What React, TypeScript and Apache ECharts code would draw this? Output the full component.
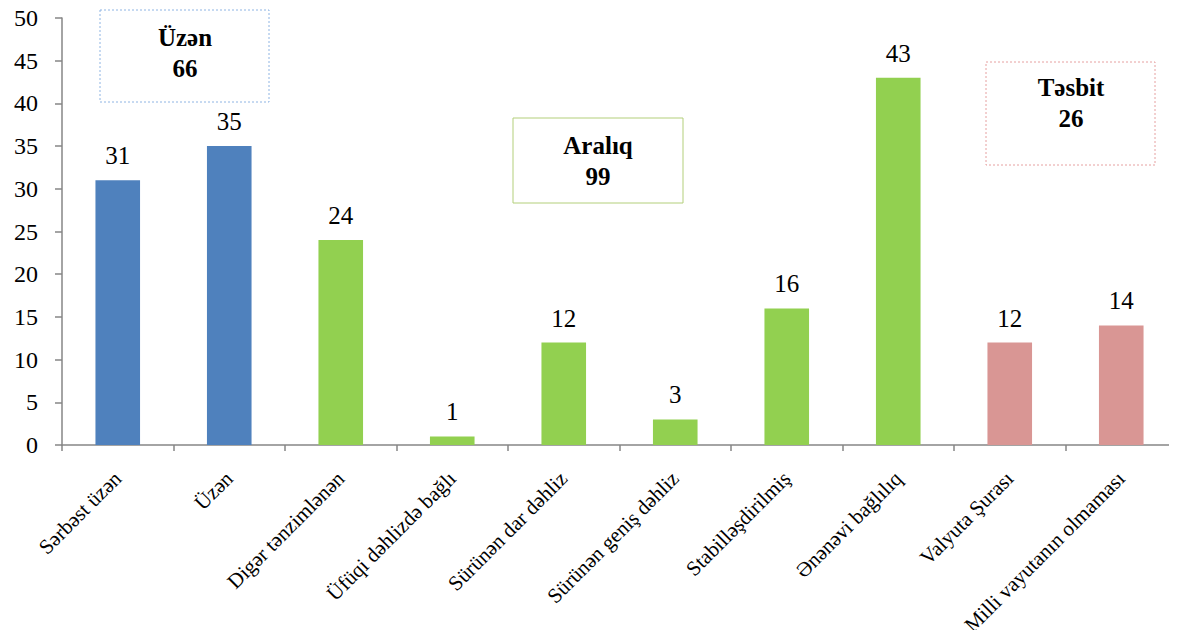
import React, { useEffect, useRef } from "react";
import * as echarts from "echarts";

const categories = [
  "Sərbəst üzən",
  "Üzən",
  "Digər tənzimlənən",
  "Üfüqi dəhlizdə bağlı",
  "Sürünən dar dəhliz",
  "Sürünən geniş dəhliz",
  "Stabilləşdirilmiş",
  "Ənənəvi bağlılıq",
  "Valyuta Şurası",
  "Milli vayutanın olmaması",
];
const values = [31, 35, 24, 1, 12, 3, 16, 43, 12, 14];
const groups = [0, 0, 1, 1, 1, 1, 1, 1, 2, 2];
const groupColors = ["#4F81BD", "#92D050", "#D99694"];
const boxTitles = ["Üzən", "Aralıq", "Təsbit"];
const boxTotals = [66, 99, 26];
const yTicks = [0, 5, 10, 15, 20, 25, 30, 35, 40, 45, 50];

const FONT = "Liberation Serif";

export default function App() {
  const ref = useRef<HTMLDivElement>(null);
  useEffect(() => {
    if (!ref.current) return;
    const chart = echarts.init(ref.current, null, { renderer: "svg" });
    const boxes = [
      { x: 100, y: 10, w: 169, h: 92, stroke: "#8EB4E3", dash: [2, 2], tx: 185, ty: 53 },
      { x: 513, y: 118, w: 170, h: 85, stroke: "#B3CF7A", dash: null, tx: 598, ty: 161 },
      { x: 986, y: 62, w: 169, h: 103, stroke: "#E6A0A0", dash: [2, 2], tx: 1071, ty: 103 },
    ];
    const graphic: any[] = [];
    boxes.forEach((b, i) => {
      graphic.push({
        type: "rect",
        shape: { x: b.x, y: b.y, width: b.w, height: b.h },
        style: { fill: "#fff", stroke: b.stroke, lineWidth: 1, lineDash: b.dash || undefined },
        z: 10,
      });
      graphic.push({
        type: "text",
        x: b.tx,
        y: b.ty,
        z: 11,
        style: {
          text: boxTitles[i] + "\n" + boxTotals[i],
          fontFamily: FONT,
          fontWeight: "bold",
          fontSize: 25,
          lineHeight: 31,
          fill: "#000",
          align: "center",
          verticalAlign: "middle",
        },
      });
    });
    chart.setOption({
      animation: false,
      grid: { left: 62, top: 18, width: 1118, bottom: 191, containLabel: false },
      xAxis: {
        type: "category",
        data: categories,
        boundaryGap: true,
        axisLine: { show: true, lineStyle: { color: "#868686", width: 1.5 } },
        axisTick: { show: true, alignWithLabel: false, length: 6, lineStyle: { color: "#868686", width: 1.5 } },
        axisLabel: {
          interval: 0,
          rotate: 45,
          fontFamily: FONT,
          fontSize: 21,
          color: "#000",
          margin: 30,
        },
      },
      yAxis: {
        type: "value",
        min: 0,
        max: 50,
        interval: 5,
        splitLine: { show: false },
        axisLine: { show: true, lineStyle: { color: "#868686", width: 1.5 } },
        axisTick: { show: true, length: 7, lineStyle: { color: "#868686", width: 1.5 } },
        axisLabel: {
          fontFamily: FONT,
          fontSize: 24,
          color: "#000",
          margin: 24,
          formatter: (v: number) => (yTicks.includes(v) ? String(v) : ""),
        },
      },
      series: [
        {
          type: "bar",
          barWidth: "40%",
          data: values.map((v, i) => ({ value: v, itemStyle: { color: groupColors[groups[i]] } })),
          label: {
            show: true,
            position: "top",
            distance: 12,
            fontFamily: FONT,
            fontSize: 25,
            color: "#000",
          },
        },
      ],
      graphic,
    });
    return () => chart.dispose();
  }, []);
  return (
    <div style={{ margin: -8 }}>
      <div ref={ref} style={{ width: 1177, height: 638, background: "#fff" }} />
    </div>
  );
}
